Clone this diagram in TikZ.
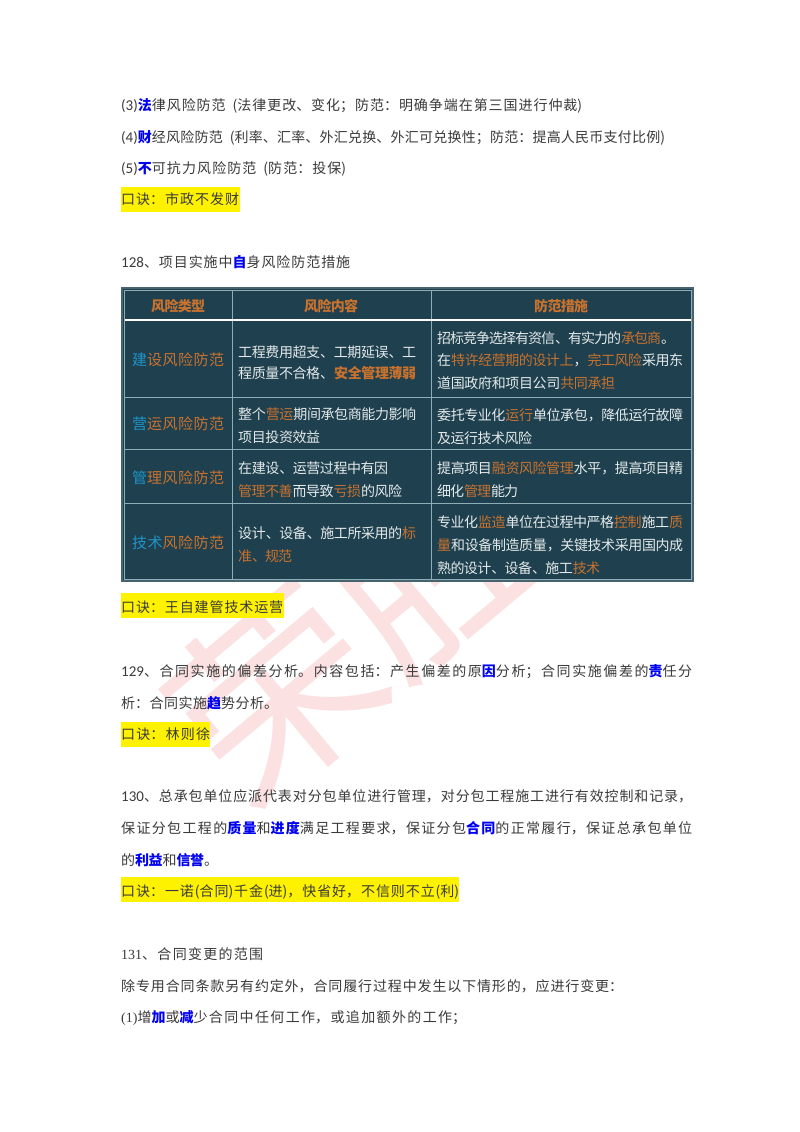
\documentclass[tikz,border=0pt]{standalone}
\usepackage{fontspec}
\setmainfont{Noto Sans CJK SC}
\newfontfamily\latfont{Carlito}
\newfontfamily\romfont{Liberation Serif}
\XeTeXlinebreaklocale "zh"
\XeTeXlinebreakskip=0pt plus 6pt minus 1pt
\definecolor{bodygray}{HTML}{3A3A3A}
\definecolor{kwblue}{HTML}{0000F0}
\definecolor{tablebg}{HTML}{1E404F}
\definecolor{gridline}{HTML}{8DAEB6}
\definecolor{tabletext}{HTML}{E4E9E9}
\definecolor{tableorange}{HTML}{C9722E}
\definecolor{tableblue}{HTML}{1E95C8}
\definecolor{markpink}{HTML}{FBE1E1}
\definecolor{tableedge}{HTML}{46636E}
\newcommand{\spread}[2]{\parbox[t]{#1pt}{\parindent=0pt\parfillskip=0pt\tolerance=9999\hbadness=10000\hfuzz=3pt\relax #2}}
\newcommand{\kw}[1]{\textcolor{kwblue}{\bfseries #1}}
\newcommand{\og}[1]{\textcolor{tableorange}{#1}}
\newcommand{\bl}[1]{\textcolor{tableblue}{#1}}
\newcommand{\lat}[1]{{\latfont\fontsize{15}{15}\selectfont #1}}
\newcommand{\rom}[1]{{\romfont #1}}
\tikzset{
  txt/.style={anchor=base west,inner sep=0pt,text=bodygray,font=\fontsize{14}{14}\selectfont},
  cell/.style={anchor=base west,inner sep=0pt,text=tabletext,font=\fontsize{14}{14}\selectfont},
  kind/.style={anchor=base west,inner sep=0pt,text=tableorange,font=\fontsize{15}{15}\selectfont},
  head/.style={anchor=base west,inner sep=0pt,text=tableorange,font=\fontsize{14}{14}\selectfont\bfseries},
  hl/.style={fill=yellow},
  gridln/.style={draw=gridline,line width=0.8pt},
  wmark/.style={inner sep=0pt,text=markpink,rotate=40,font=\fontsize{200}{200}\selectfont}
}
\begin{document}
\begin{tikzpicture}[x=1pt,y=-1pt]
\useasboundingbox (0,0) rectangle (800,1132);
\fill[white] (0,0) rectangle (800,1132);
% watermark
\node[wmark] (markrong) at (275,692) {荣};
\node[wmark] (marksheng) at (428,563) {胜};
% top lines
\node[txt] (law) at (121,110) {\spread{461}{\lat{(3)}\kw{法}律风险防范\hspace{7pt}(法律更改、变化；防范：明确争端在第三国进行仲裁)}};
\node[txt] (fin) at (121,142) {\spread{544}{\lat{(4)}\kw{财}经风险防范\hspace{7pt}(利率、汇率、外汇兑换、外汇可兑换性；防范：提高人民币支付比例)}};
\node[txt] (force) at (121,173) {\spread{225}{\lat{(5)}\kw{不}可抗力风险防范\hspace{7pt}(防范：投保)}};
\fill[hl] (121,187) rectangle (240,212);
\node[txt] (rhyme1) at (121,204) {\spread{118}{口诀：市政不发财}};
\node[txt] (title128) at (121,267) {\spread{229}{\lat{128}、项目实施中\kw{自}身风险防范措施}};
% table
\fill[tablebg] (122,288) rectangle (693,581);
\draw[gridln] (232,290) -- (232,580);
\draw[gridln] (431,290) -- (431,580);
\draw[white,line width=1.6pt] (124,320) -- (692,320);
\draw[gridln] (124,397) -- (692,397);
\draw[gridln] (124,449) -- (692,449);
\draw[gridln] (124,503) -- (692,503);
\draw[gridln] (124,290) rectangle (691,579);
\draw[tableedge,line width=1.4pt] (122,288) rectangle (693,581);
% table header
\node[head] (headkind) at (151,311) {\spread{54}{风险类型}};
\node[head] (headrisk) at (304,311) {\spread{54}{风险内容}};
\node[head] (headmeas) at (534,311) {\spread{54}{防范措施}};
% first column
\node[kind] (kindbuild) at (132,365) {\spread{92}{\bl{建}设风险防范}};
\node[kind] (kindrun) at (132,429) {\spread{92}{\bl{营}运风险防范}};
\node[kind] (kindmgmt) at (132,483) {\spread{92}{\bl{管}理风险防范}};
\node[kind] (kindtech) at (132,548) {\spread{92}{\bl{技术}风险防范}};
% second column
\node[cell] (riskA) at (238,357) {\spread{178}{工程费用超支、工期延误、工}};
\node[cell] (riskB) at (238,378) {\spread{178}{程质量不合格、\og{\bfseries 安全管理薄弱}}};
\node[cell] (riskC) at (238,419) {\spread{178}{整个\og{营运}期间承包商能力影响}};
\node[cell] (riskD) at (238,442) {\spread{82}{项目投资效益}};
\node[cell] (riskE) at (238,473) {\spread{150}{在建设、运营过程中有因}};
\node[cell] (riskF) at (238,496) {\spread{164}{\og{管理不善}而导致\og{亏损}的风险}};
\node[cell] (riskG) at (238,538) {\spread{178}{设计、设备、施工所采用的\og{标}}};
\node[cell] (riskH) at (238,561) {\spread{54}{\og{准、规范}}};
% third column
\node[cell] (measA) at (437,343) {\spread{238}{招标竞争选择有资信、有实力的\og{承包商}。}};
\node[cell] (measB) at (437,365) {\spread{246}{在\og{特许经营期的设计上}，\og{完工风险}采用东}};
\node[cell] (measC) at (437,388) {\spread{178}{道国政府和项目公司\og{共同承担}}};
\node[cell] (measD) at (437,420) {\spread{246}{委托专业化\og{运行}单位承包，降低运行故障}};
\node[cell] (measE) at (437,443) {\spread{95}{及运行技术风险}};
\node[cell] (measF) at (437,473) {\spread{246}{提高项目\og{融资风险管理}水平，提高项目精}};
\node[cell] (measG) at (437,496) {\spread{81}{细化\og{管理}能力}};
\node[cell] (measH) at (437,527) {\spread{246}{专业化\og{监造}单位在过程中严格\og{控制}施工\og{质}}};
\node[cell] (measI) at (437,550) {\spread{246}{\og{量}和设备制造质量，关键技术采用国内成}};
\node[cell] (measJ) at (437,573) {\spread{163}{熟的设计、设备、施工\og{技术}}};
% below the table
\fill[hl] (121,593) rectangle (284,618);
\node[txt] (rhyme2) at (121,612) {\spread{162}{口诀：王自建管技术运营}};
\node[txt] (item129a) at (121,676) {\spread{571}{\lat{129}、合同实施的偏差分析。内容包括：产生偏差的原\kw{因}分析；合同实施偏差的\kw{责}任分}};
\node[txt] (item129b) at (121,708) {\spread{157}{析：合同实施\kw{趋}势分析。}};
\fill[hl] (121,722) rectangle (210,747);
\node[txt] (rhyme3) at (121,739) {\spread{89}{口诀：林则徐}};
\node[txt] (item130a) at (121,801) {\spread{571}{\lat{130}、总承包单位应派代表对分包单位进行管理，对分包工程施工进行有效控制和记录，}};
\node[txt] (item130b) at (121,833) {\spread{571}{保证分包工程的\kw{质量}和\kw{进度}满足工程要求，保证分包\kw{合同}的正常履行，保证总承包单位}};
\node[txt] (item130c) at (121,865) {\spread{97}{的\kw{利益}和\kw{信誉}。}};
\fill[hl] (121,877) rectangle (459,902);
\node[txt] (rhyme4) at (121,896) {\spread{338}{口诀：一诺(合同)千金(进)，快省好，不信则不立(利)}};
\node[txt] (title131) at (121,959) {\spread{142}{\rom{131}、合同变更的范围}};
\node[txt] (item131a) at (121,991) {\spread{502}{除专用合同条款另有约定外，合同履行过程中发生以下情形的，应进行变更：}};
\node[txt] (item131b) at (121,1022) {\spread{345}{\rom{(1)}增\kw{加}或\kw{减}少合同中任何工作，或追加额外的工作；}};
\end{tikzpicture}
\end{document}
